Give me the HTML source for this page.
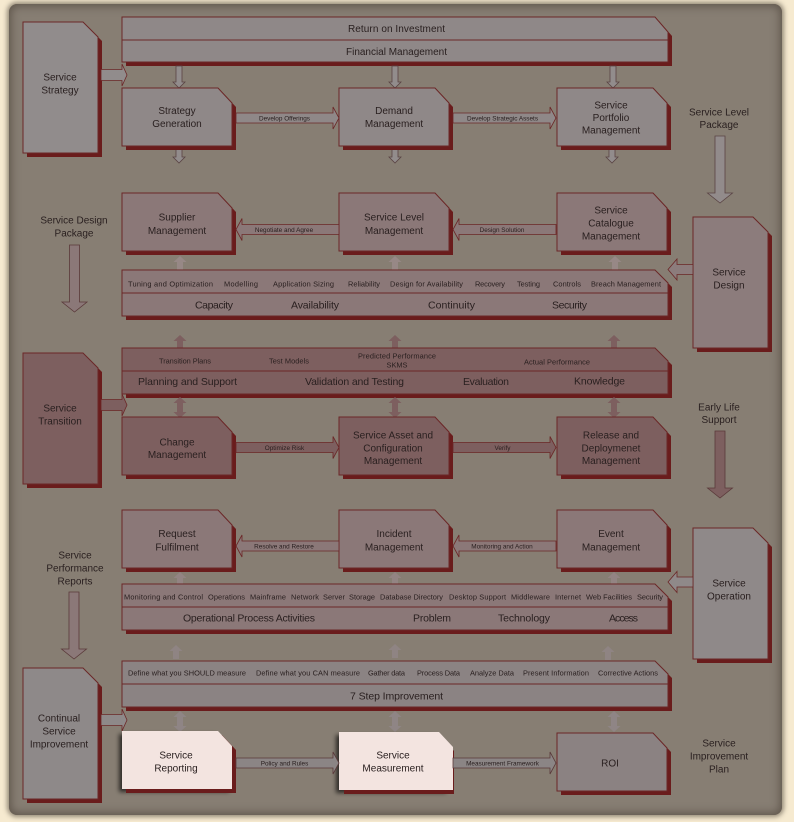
<!DOCTYPE html>
<html><head><meta charset="utf-8"><style>
body{margin:0;width:794px;height:822px;background:#f6ead0;overflow:hidden;position:relative}
.t{font-size:10px;text-anchor:middle}
.b{font-size:10.5px;text-anchor:middle}
.s{font-size:7.4px;text-anchor:middle}
.a{font-size:6.4px;text-anchor:middle}
</style></head><body>
<div style="position:absolute;left:9px;top:4px;width:773px;height:811px;background:#877e73;border-radius:8px;box-shadow:0 0 5px 2px rgba(70,60,50,.55), inset 0 0 9px 2px rgba(55,45,35,.5)"></div>
<svg xmlns="http://www.w3.org/2000/svg" width="794" height="822" viewBox="0 0 794 822" style="position:absolute;left:0;top:0" font-family="Liberation Sans, Arial, sans-serif" fill="#2a2020">
<defs>
<path id="bx" d="M0 0H96L110 15V58H0Z"/>
<path id="sd" d="M0 0H60L75 15V131H0Z"/>
<path id="br" d="M0 0H533L546 13V46H0Z"/>
<path id="tb" d="M0 0H533L546 15V45H0Z"/>
<path id="ar" d="M0 -5H97V-11L103 0L97 11V5H0Z"/>
<path id="al" d="M103 -5H6V-11L0 0L6 11V5H103Z"/>
<path id="sa" d="M0 -5.5H21V-11L26 0L21 11V5.5H0Z"/>
<path id="sl" d="M25 -5H9V-10.5L0 0L9 10.5V5H25Z"/>
<path id="dn" d="M-3 0H3V16H6L0 22L-6 16H-3Z"/>
<path id="dn2" d="M-3 0H3V9H6L0 15L-6 9H-3Z"/>
<path id="up" d="M-3 14V6H-6.5L0 0L6.5 6H3V14Z"/>
<path id="dd" d="M0 0L6.5 6H3V15H6.5L0 21L-6.5 15H-3V6H-6.5Z"/>
<path id="big" d="M-5 0H5V57H12.5L0 67L-12.5 57H-5Z"/>
<filter id="blk" x="-20%" y="-20%" width="140%" height="140%"><feGaussianBlur stdDeviation="2"/></filter>
</defs>

<!-- ===== STRATEGY ===== -->
<use href="#sd" x="27" y="26" fill="#6a1c1c"/>
<use href="#sd" x="23" y="22" fill="#918c8c" stroke="#6b2727"/>
<use href="#sa" x="101" y="75" fill="#918c8c" stroke="#6b2727" stroke-width=".8"/>
<text class="t" x="60" y="80.5">Service</text>
<text class="t" x="60" y="93.5">Strategy</text>

<use href="#tb" x="126" y="21" fill="#6a1c1c"/>
<use href="#tb" x="122" y="17" fill="#8f8888" stroke="#6b2727"/>
<line x1="122" y1="40" x2="668" y2="40" stroke="#6b2727"/>
<text class="t" x="396.5" y="32" textLength="97">Return on Investment</text>
<text class="t" x="396.5" y="55" textLength="101">Financial Management</text>

<g fill="#928c8c" stroke="#5a4444" stroke-width=".8">
<use href="#dn" x="179" y="66"/><use href="#dn" x="395" y="66"/><use href="#dn" x="613" y="66"/>
<use href="#dn2" x="179" y="148"/><use href="#dn2" x="395" y="148"/><use href="#dn2" x="612" y="148"/>
</g>

<g fill="#6a1c1c"><use href="#bx" x="126" y="92"/><use href="#bx" x="343" y="92"/><use href="#bx" x="561" y="92"/></g>
<g fill="#8f8888" stroke="#6b2727"><use href="#bx" x="122" y="88"/><use href="#bx" x="339" y="88"/><use href="#bx" x="557" y="88"/></g>
<g fill="#8f8888" stroke="#6b2727" stroke-width=".8"><use href="#ar" x="236" y="118"/><use href="#ar" x="453" y="118"/></g>
<text class="a" x="284.5" y="120.3">Develop Offerings</text>
<text class="a" x="502.5" y="120.3">Develop Strategic Assets</text>
<text class="t" x="177" y="114">Strategy</text><text class="t" x="177" y="127">Generation</text>
<text class="t" x="394" y="114">Demand</text><text class="t" x="394" y="127">Management</text>
<text class="t" x="611" y="108.5">Service</text><text class="t" x="611" y="121">Portfolio</text><text class="t" x="611" y="133.5">Management</text>

<text class="t" x="719" y="115.5">Service Level</text><text class="t" x="719" y="128">Package</text>
<use href="#big" x="720" y="136" fill="#928b8b" stroke="#5a4444" stroke-width=".8"/>

<!-- ===== DESIGN ===== -->
<text class="t" x="74" y="223.5">Service Design</text><text class="t" x="74" y="236.5">Package</text>
<use href="#big" x="74.5" y="245" fill="#8b7878" stroke="#5a3a3a" stroke-width=".8"/>

<g fill="#6a1c1c"><use href="#bx" x="126" y="197"/><use href="#bx" x="343" y="197"/><use href="#bx" x="561" y="197"/></g>
<g fill="#8b7878" stroke="#6b2727"><use href="#bx" x="122" y="193"/><use href="#bx" x="339" y="193"/><use href="#bx" x="557" y="193"/></g>
<g fill="#8b7878" stroke="#6b2727" stroke-width=".8"><use href="#al" x="236" y="229.5"/><use href="#al" x="453" y="229.5"/></g>
<text class="a" x="284" y="231.8">Negotiate and Agree</text>
<text class="a" x="502" y="231.8">Design Solution</text>
<text class="t" x="177" y="220.5">Supplier</text><text class="t" x="177" y="234">Management</text>
<text class="t" x="394" y="220.5">Service Level</text><text class="t" x="394" y="234">Management</text>
<text class="t" x="611" y="213.5">Service</text><text class="t" x="611" y="226.5">Catalogue</text><text class="t" x="611" y="239.5">Management</text>

<g fill="#978886"><use href="#up" x="180" y="256"/><use href="#up" x="395" y="256"/><use href="#up" x="615" y="256"/></g>

<use href="#br" x="126" y="274" fill="#6a1c1c"/>
<use href="#br" x="122" y="270" fill="#8b7878" stroke="#6b2727"/>
<line x1="122" y1="293" x2="668" y2="293" stroke="#6b2727"/>
<text class="s" x="170.5" y="286.5" textLength="85">Tuning and Optimization</text>
<text class="s" x="241" y="286.5" textLength="34">Modelling</text>
<text class="s" x="303.5" y="286.5" textLength="61">Application Sizing</text>
<text class="s" x="364" y="286.5" textLength="32">Reliability</text>
<text class="s" x="426.5" y="286.5" textLength="73">Design for Availability</text>
<text class="s" x="490" y="286.5" textLength="30">Recovery</text>
<text class="s" x="528.5" y="286.5" textLength="23">Testing</text>
<text class="s" x="567" y="286.5" textLength="28">Controls</text>
<text class="s" x="626" y="286.5" textLength="70">Breach Management</text>
<text class="b" x="214" y="308.5" textLength="38">Capacity</text>
<text class="b" x="315" y="308.5" textLength="48">Availability</text>
<text class="b" x="451.5" y="308.5" textLength="47">Continuity</text>
<text class="b" x="569.5" y="308.5" textLength="35">Security</text>

<use href="#sd" x="697" y="221" fill="#6a1c1c"/>
<use href="#sd" x="693" y="217" fill="#8c7c7c" stroke="#6b2727"/>
<use href="#sl" x="668" y="269.5" fill="#8c7c7c" stroke="#6b2727" stroke-width=".8"/>
<text class="t" x="729" y="275.5">Service</text><text class="t" x="729" y="288.5">Design</text>

<!-- ===== TRANSITION ===== -->
<g fill="#7d5f5f"><use href="#up" x="180" y="335"/><use href="#up" x="395" y="335"/><use href="#up" x="614" y="335"/></g>

<use href="#br" x="126" y="352" fill="#6a1c1c"/>
<use href="#br" x="122" y="348" fill="#7d5f5f" stroke="#6b2727"/>
<line x1="122" y1="371" x2="668" y2="371" stroke="#6b2727"/>
<text class="s" x="185" y="363.5" textLength="52">Transition Plans</text>
<text class="s" x="289" y="363.5" textLength="40">Test Models</text>
<text class="s" x="397" y="358.5" textLength="78">Predicted Performance</text>
<text class="s" x="397" y="367.5">SKMS</text>
<text class="s" x="557" y="364.5" textLength="66">Actual Performance</text>
<text class="b" x="187.5" y="385" textLength="99">Planning and Support</text>
<text class="b" x="354.5" y="385" textLength="99">Validation and Testing</text>
<text class="b" x="486" y="385" textLength="46">Evaluation</text>
<text class="b" x="599.5" y="384.5" textLength="51">Knowledge</text>

<use href="#sd" x="27" y="357" fill="#6a1c1c"/>
<use href="#sd" x="23" y="353" fill="#7d5f5f" stroke="#6b2727"/>
<use href="#sa" x="101" y="405" fill="#7d5f5f" stroke="#6b2727" stroke-width=".8"/>
<text class="t" x="60" y="411.5">Service</text><text class="t" x="60" y="424.5">Transition</text>

<g fill="#7d5f5f"><use href="#dd" x="180" y="397"/><use href="#dd" x="395" y="397"/><use href="#dd" x="614" y="397"/></g>

<g fill="#6a1c1c"><use href="#bx" x="126" y="421"/><use href="#bx" x="343" y="421"/><use href="#bx" x="561" y="421"/></g>
<g fill="#7d5f5f" stroke="#6b2727"><use href="#bx" x="122" y="417"/><use href="#bx" x="339" y="417"/><use href="#bx" x="557" y="417"/></g>
<g fill="#7d5f5f" stroke="#6b2727" stroke-width=".8"><use href="#ar" x="236" y="447.5"/><use href="#ar" x="453" y="447.5"/></g>
<text class="a" x="284.5" y="450">Optimize Risk</text>
<text class="a" x="502.5" y="450">Verify</text>
<text class="t" x="177" y="445.5">Change</text><text class="t" x="177" y="458">Management</text>
<text class="t" x="393" y="438.5">Service Asset and</text><text class="t" x="393" y="451.5">Configuration</text><text class="t" x="393" y="464">Management</text>
<text class="t" x="611" y="438.5">Release and</text><text class="t" x="611" y="451.5">Deploymenet</text><text class="t" x="611" y="464">Management</text>

<text class="t" x="719" y="410.5">Early Life</text><text class="t" x="719" y="423">Support</text>
<use href="#big" x="720" y="431" fill="#7d5f5f" stroke="#5a3a3a" stroke-width=".8"/>

<!-- ===== OPERATION ===== -->
<text class="t" x="75" y="558.5">Service</text><text class="t" x="75" y="571.5">Performance</text><text class="t" x="75" y="584.5">Reports</text>
<use href="#big" x="74" y="592" fill="#8b7878" stroke="#5a3a3a" stroke-width=".8"/>

<g fill="#6a1c1c"><use href="#bx" x="126" y="514"/><use href="#bx" x="343" y="514"/><use href="#bx" x="561" y="514"/></g>
<g fill="#8b7878" stroke="#6b2727"><use href="#bx" x="122" y="510"/><use href="#bx" x="339" y="510"/><use href="#bx" x="557" y="510"/></g>
<g fill="#8b7878" stroke="#6b2727" stroke-width=".8"><use href="#al" x="236" y="546"/><use href="#al" x="453" y="546"/></g>
<text class="a" x="284" y="548.3">Resolve and Restore</text>
<text class="a" x="502" y="548.3">Monitoring and Action</text>
<text class="t" x="177" y="537">Request</text><text class="t" x="177" y="550.5">Fulfilment</text>
<text class="t" x="394" y="537">Incident</text><text class="t" x="394" y="550.5">Management</text>
<text class="t" x="611" y="537">Event</text><text class="t" x="611" y="550.5">Management</text>

<g fill="#938483"><use href="#up" x="180" y="572"/><use href="#up" x="395" y="572"/><use href="#up" x="614" y="572"/></g>

<use href="#br" x="126" y="588" fill="#6a1c1c"/>
<use href="#br" x="122" y="584" fill="#8b7878" stroke="#6b2727"/>
<line x1="122" y1="607" x2="668" y2="607" stroke="#6b2727"/>
<text class="s" x="163.5" y="599.5" textLength="79">Monitoring and Control</text>
<text class="s" x="226.5" y="599.5" textLength="37">Operations</text>
<text class="s" x="268" y="599.5" textLength="36">Mainframe</text>
<text class="s" x="305" y="599.5" textLength="28">Network</text>
<text class="s" x="334" y="599.5" textLength="22">Server</text>
<text class="s" x="362" y="599.5" textLength="26">Storage</text>
<text class="s" x="411.5" y="599.5" textLength="63">Database Directory</text>
<text class="s" x="477.5" y="599.5" textLength="57">Desktop Support</text>
<text class="s" x="530.5" y="599.5" textLength="39">Middleware</text>
<text class="s" x="568" y="599.5" textLength="26">Internet</text>
<text class="s" x="609" y="599.5" textLength="46">Web Facilities</text>
<text class="s" x="650" y="599.5" textLength="26">Security</text>
<text class="b" x="249" y="621.5" textLength="132">Operational Process Activities</text>
<text class="b" x="432" y="621.5" textLength="38">Problem</text>
<text class="b" x="524" y="621.5" textLength="52">Technology</text>
<text class="b" x="623.5" y="621.5" textLength="29">Access</text>

<use href="#sd" x="697" y="532" fill="#6a1c1c"/>
<use href="#sd" x="693" y="528" fill="#8f8989" stroke="#6b2727"/>
<use href="#sl" x="668" y="582" fill="#8f8989" stroke="#6b2727" stroke-width=".8"/>
<text class="t" x="729" y="586.5">Service</text><text class="t" x="729" y="599.5">Operation</text>

<g fill="#8f8483"><use href="#up" x="176" y="645"/><use href="#up" x="395" y="644"/><use href="#up" x="608" y="646"/></g>

<!-- ===== CSI ===== -->
<use href="#br" x="126" y="665" fill="#6a1c1c"/>
<use href="#br" x="122" y="661" fill="#8b8383" stroke="#6b2727"/>
<line x1="122" y1="684" x2="668" y2="684" stroke="#6b2727"/>
<text class="s" x="187" y="675.5" textLength="118">Define what you SHOULD measure</text>
<text class="s" x="308" y="675.5" textLength="104">Define what you CAN measure</text>
<text class="s" x="386.5" y="675.5" textLength="37">Gather data</text>
<text class="s" x="438.5" y="675.5" textLength="43">Process Data</text>
<text class="s" x="492" y="675.5" textLength="44">Analyze Data</text>
<text class="s" x="556" y="675.5" textLength="66">Present Information</text>
<text class="s" x="628" y="675.5" textLength="60">Corrective Actions</text>
<text class="b" x="396.5" y="699.5" textLength="93">7 Step Improvement</text>

<use href="#sd" x="27" y="672" fill="#6a1c1c"/>
<use href="#sd" x="23" y="668" fill="#8e8989" stroke="#6b2727"/>
<use href="#sa" x="101" y="720" fill="#8e8989" stroke="#6b2727" stroke-width=".8"/>
<text class="t" x="59" y="721.5">Continual</text><text class="t" x="59" y="734.5">Service</text><text class="t" x="59" y="747.5">Improvement</text>

<g fill="#8f8585"><use href="#dd" x="180" y="711"/><use href="#dd" x="395" y="711"/><use href="#dd" x="614" y="711"/></g>

<g filter="url(#blk)" fill="#000" opacity=".65"><use href="#bx" x="119" y="734"/><use href="#bx" x="336" y="735"/></g>
<g fill="#6a1c1c"><use href="#bx" x="126" y="735"/><use href="#bx" x="344" y="736"/><use href="#bx" x="561" y="737"/></g>
<g fill="#f3e4e0"><use href="#bx" x="122" y="731"/><path d="M339 732H439L453 747V790H339Z"/></g>
<use href="#bx" x="557" y="733" fill="#8b8282" stroke="#6b2727"/>
<g fill="#8b8585" stroke="#5a3a3a" stroke-width=".8"><use href="#ar" x="236" y="763"/><use href="#ar" x="453" y="763"/></g>
<text class="a" x="284.5" y="765.3">Policy and Rules</text>
<text class="a" x="502.5" y="765.3">Measurement Framework</text>
<text class="t" x="176" y="758.5">Service</text><text class="t" x="176" y="771.5">Reporting</text>
<text class="t" x="393" y="758.5">Service</text><text class="t" x="393" y="771.5">Measurement</text>
<text class="t" x="610" y="766.5">ROI</text>

<text class="t" x="719" y="746.5">Service</text><text class="t" x="719" y="759.5">Improvement</text><text class="t" x="719" y="772.5">Plan</text>
</svg>
</body></html>
